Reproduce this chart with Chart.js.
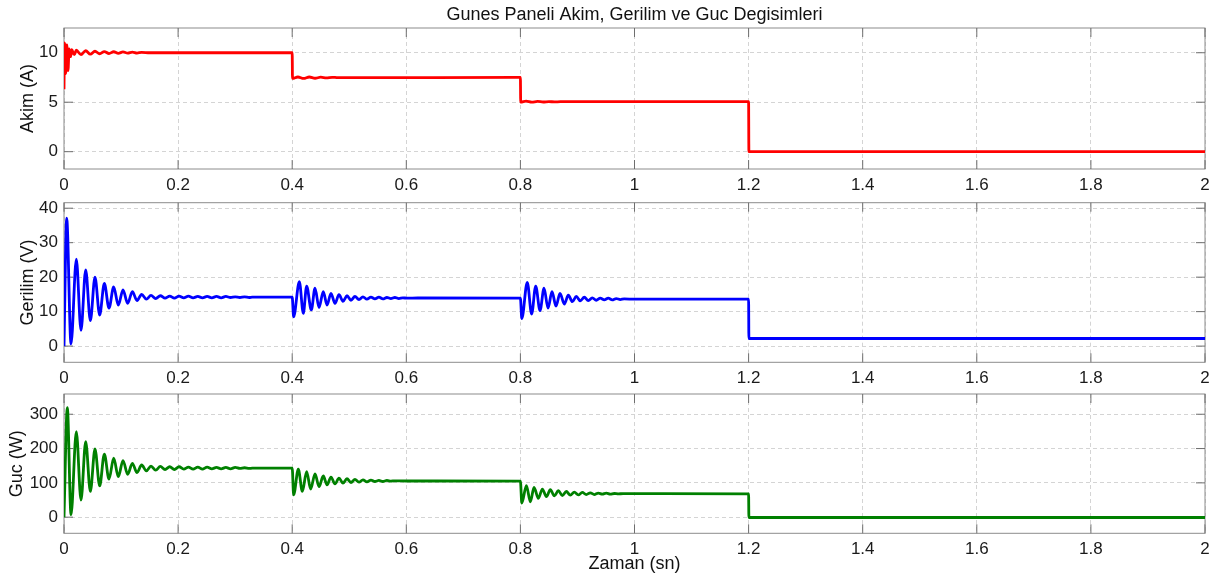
<!DOCTYPE html>
<html>
<head>
<meta charset="utf-8">
<script src="https://cdn.jsdelivr.net/npm/chart.js@4.4.1/dist/chart.umd.min.js"></script>
<style>
  html, body { margin: 0; padding: 0; background: #fff; }
  .panel { position: absolute; left: 0; }
  canvas { display: block; }
</style>
</head>
<body>
<div class="panel" style="top:0px"><canvas id="akimChart" width="1219" height="200"></canvas></div>
<div class="panel" style="top:180px"><canvas id="gerilimChart" width="1219" height="210"></canvas></div>
<div class="panel" style="top:370px"><canvas id="gucChart" width="1219" height="210"></canvas></div>
<script>
// time axis (s)
const xTicks = [0, 0.2, 0.4, 0.6, 0.8, 1, 1.2, 1.4, 1.6, 1.8, 2];
const xTickLabels = ["0", "0.2", "0.4", "0.6", "0.8", "1", "1.2", "1.4", "1.6", "1.8", "2"];

// Akim (A)
const akimTicks = [0, 5, 10];
const akimT = [0, 0.001, 0.003, 0.005, 0.007, 0.009, 0.0115, 0.0135, 0.018, 0.0216, 0.0298, 0.038, 0.0462,
  0.0543, 0.0625, 0.0707, 0.0789, 0.0871, 0.0952, 0.1034, 0.1116, 0.1198, 0.128, 0.1361, 0.15, 0.4,
  0.4005, 0.41, 0.42, 0.43, 0.44, 0.45, 0.46, 0.47, 0.48, 0.8,
  0.8005, 0.81, 0.82, 0.83, 0.84, 0.85, 0.86, 0.87, 1.2, 1.2005, 2];
const akimA = [6.3, 11.0, 7.9, 10.8, 8.2, 10.4, 9.6, 10.3, 9.8, 10.25, 9.8, 10.2, 9.85,
  10.15, 9.9, 10.12, 9.92, 10.1, 9.94, 10.08, 9.96, 10.06, 9.97, 10.04, 10.0, 10.0,
  7.4, 7.55, 7.4, 7.55, 7.42, 7.53, 7.45, 7.52, 7.48, 7.5,
  5.0, 5.1, 5.0, 5.08, 5.02, 5.06, 5.03, 5.05, 5.05, 0, 0];

// Gerilim (V)
const gerilimTicks = [0, 10, 20, 30, 40];
const gerilimT = [0, 0.0047, 0.0123, 0.0216, 0.0298, 0.038, 0.0462, 0.0543, 0.0625, 0.0707, 0.0789,
  0.0871, 0.0952, 0.1034, 0.1116, 0.1198, 0.128, 0.1361, 0.1443, 0.1525, 0.1607, 0.1689, 0.1771,
  0.1853, 0.1935, 0.2017, 0.2099, 0.2181, 0.2263, 0.2345, 0.2427, 0.2509, 0.2591, 0.2673, 0.2755,
  0.2837, 0.2919, 0.3001, 0.3083, 0.3165, 0.3247, 0.33, 0.4,
  0.4025, 0.4125, 0.4195, 0.4253, 0.4335, 0.44, 0.447, 0.4545, 0.461, 0.468, 0.475, 0.482, 0.489,
  0.496, 0.503, 0.51, 0.517, 0.524, 0.531, 0.538, 0.545, 0.552, 0.559, 0.566, 0.573, 0.58, 0.587,
  0.594, 0.601, 0.62, 0.8,
  0.8025, 0.812, 0.8197, 0.8268, 0.8344, 0.8414, 0.8484, 0.8554, 0.8624, 0.8694, 0.877, 0.884, 0.891,
  0.898, 0.905, 0.912, 0.919, 0.926, 0.933, 0.94, 0.947, 0.954, 0.961, 0.968, 0.975, 0.982, 1.0,
  1.2, 1.2005, 2];
const gerilimV = [0, 37.1, 0.6, 25.2, 4.6, 22.1, 7.4, 20.0, 9.0, 18.2, 11.0,
  17.2, 11.9, 16.3, 12.4, 15.8, 13.2, 15.0, 13.6, 14.7, 13.8, 14.6, 13.9,
  14.5, 13.9, 14.5, 14.0, 14.5, 14.0, 14.4, 14.0, 14.4, 14.0, 14.4, 14.0,
  14.4, 14.1, 14.3, 14.1, 14.3, 14.1, 14.2, 14.2,
  8.5, 18.7, 9.5, 17.4, 10.5, 16.8, 11.2, 15.8, 11.9, 15.3, 12.4, 14.9, 13.0,
  14.6, 13.3, 14.4, 13.5, 14.3, 13.6, 14.2, 13.7, 14.2, 13.7, 14.1, 13.8, 14.1, 13.8,
  14.0, 13.9, 13.95, 13.9,
  8.0, 18.5, 9.3, 17.4, 10.3, 16.8, 11.0, 15.8, 11.6, 15.3, 12.2, 14.8, 12.9,
  14.4, 13.1, 14.2, 13.2, 14.0, 13.3, 13.9, 13.4, 13.9, 13.4, 13.8, 13.5, 13.7, 13.6,
  13.6, 2.2, 2.2];

// Guc (W)
const gucTicks = [0, 100, 200, 300];
const gucT = [0, 0.0058, 0.0123, 0.0216, 0.0298, 0.038, 0.0462, 0.0543, 0.0625, 0.0707, 0.0789,
  0.0871, 0.0952, 0.1034, 0.1116, 0.1198, 0.128, 0.1361, 0.1443, 0.1525, 0.1607, 0.1689, 0.1771,
  0.1853, 0.1935, 0.2017, 0.2099, 0.2181, 0.2263, 0.2345, 0.2427, 0.2509, 0.2591, 0.2673, 0.2755,
  0.2837, 0.2919, 0.3001, 0.3083, 0.3165, 0.3247, 0.33, 0.4,
  0.4025, 0.4107, 0.4178, 0.4253, 0.4323, 0.44, 0.447, 0.4545, 0.461, 0.468, 0.475, 0.482, 0.489,
  0.496, 0.503, 0.51, 0.517, 0.524, 0.531, 0.538, 0.545, 0.552, 0.559, 0.566, 0.573, 0.58, 0.6, 0.8,
  0.8025, 0.8105, 0.8175, 0.8239, 0.8315, 0.8385, 0.8455, 0.8525, 0.8595, 0.8665, 0.8735, 0.8805,
  0.8875, 0.8945, 0.9015, 0.9085, 0.9155, 0.9225, 0.9295, 0.9365, 0.9435, 0.9505, 0.9575, 0.9645,
  0.9715, 0.98, 1.2, 1.2005, 2];
const gucP = [0, 319, 7, 249, 50, 220, 75, 199, 91, 184, 111,
  172, 118, 165, 125, 157, 130, 152, 135, 149, 137, 148, 139,
  147, 139, 147, 140, 146, 140, 146, 140, 146, 141, 145, 141,
  145, 141, 145, 142, 144, 142, 143, 143,
  65, 140, 75, 133, 82, 126, 89, 120, 94, 117, 97, 114, 99,
  112, 101, 110, 102, 109, 103, 108, 104, 107, 104, 107, 105, 106, 105.5, 105,
  41, 92, 45, 87, 55, 82, 60, 80, 62, 77, 63, 75,
  64, 73, 65, 72, 66, 71, 66, 70, 67, 70, 67, 69,
  68, 68.5, 68, -1, -1];

const FONT = '"Liberation Sans", Arial, Helvetica, sans-serif';

// box around the plot area with inward tick marks
const framePlugin = {
  id: "frame",
  beforeDatasetsDraw(chart) {
    const { ctx, chartArea: a, scales } = chart;
    ctx.save();
    ctx.strokeStyle = "#8c8c8c";
    ctx.lineWidth = 1;
    ctx.strokeRect(a.left, a.top, a.width, a.height);
    ctx.strokeStyle = "#6e6e6e";
    ctx.beginPath();
    scales.x.ticks.forEach(t => {
      const px = scales.x.getPixelForValue(t.value);
      ctx.moveTo(px, a.top); ctx.lineTo(px, a.top + 9);
      ctx.moveTo(px, a.bottom); ctx.lineTo(px, a.bottom - 9);
    });
    scales.y.ticks.forEach(t => {
      const py = scales.y.getPixelForValue(t.value);
      ctx.moveTo(a.left, py); ctx.lineTo(a.left + 9, py);
      ctx.moveTo(a.right, py); ctx.lineTo(a.right - 9, py);
    });
    ctx.stroke();
    ctx.restore();
  }
};

function makeChart(id, cfg) {
  const ctx = document.getElementById(id).getContext("2d");
  return new Chart(ctx, {
    type: "line",
    data: {
      datasets: [{
        data: cfg.t.map((t, i) => ({ x: t, y: cfg.v[i] })),
        borderColor: cfg.color,
        borderWidth: 2.8,
        pointRadius: 0,
        fill: false,
        cubicInterpolationMode: "monotone"
      }]
    },
    options: {
      responsive: false,
      animation: false,
      events: [],
      layout: { padding: cfg.padding },
      plugins: {
        legend: { display: false },
        tooltip: { enabled: false },
        title: cfg.title ? {
          display: true,
          text: cfg.title,
          fullSize: false,
          color: "#111",
          font: { size: 18, weight: "normal", family: FONT },
          padding: { top: 4, bottom: 2.4 }
        } : { display: false }
      },
      scales: {
        x: {
          type: "linear",
          min: 0,
          max: 2,
          afterBuildTicks: s => { s.ticks = xTicks.map(v => ({ value: v })); },
          afterFit: s => { s.height = cfg.xHeight; },
          grid: { color: "#d4d4d4", drawTicks: false },
          border: { display: false, dash: [4, 3] },
          ticks: {
            padding: 6, color: "#1a1a1a", autoSkip: false, maxRotation: 0,
            font: { size: 17, family: FONT },
            callback: (v, i) => xTickLabels[i]
          },
          title: cfg.xTitle ? {
            display: true, text: cfg.xTitle, color: "#111",
            font: { size: 18, family: FONT },
            padding: { top: 0, bottom: 5 }
          } : { display: false }
        },
        y: {
          type: "linear",
          min: cfg.yMin,
          max: cfg.yMax,
          afterBuildTicks: s => { s.ticks = cfg.yTicks.map(v => ({ value: v })); },
          afterFit: s => { s.width = 64; },
          grid: { color: "#d4d4d4", drawTicks: false },
          border: { display: false, dash: [4, 3] },
          ticks: {
            padding: 6, color: "#1a1a1a",
            font: { size: 17, family: FONT },
            callback: v => String(v)
          },
          title: {
            display: true, text: cfg.yTitle, color: "#111",
            font: { size: 18, family: FONT },
            padding: { top: cfg.yTitlePad, bottom: 0 }
          }
        }
      }
    },
    plugins: [framePlugin]
  });
}

makeChart("akimChart", {
  t: akimT, v: akimA, color: "#ff0000",
  yMin: -1.75, yMax: 12.5, yTicks: akimTicks, yTitle: "Akim (A)", yTitlePad: 17,
  title: "Gunes Paneli Akim, Gerilim ve Guc Degisimleri",
  padding: { top: 0, left: 0, right: 14, bottom: 6 }, xHeight: 25
});

makeChart("gerilimChart", {
  t: gerilimT, v: gerilimV, color: "#0000ff",
  yMin: -4.7, yMax: 41.6, yTicks: gerilimTicks, yTitle: "Gerilim (V)", yTitlePad: 17,
  padding: { top: 22.7, left: 0, right: 14, bottom: 2.7 }, xHeight: 25
});

makeChart("gucChart", {
  t: gucT, v: gucP, color: "#008000",
  yMin: -47, yMax: 359, yTicks: gucTicks, yTitle: "Guc (W)", yTitlePad: 6.7,
  xTitle: "Zaman (sn)",
  padding: { top: 24, left: 0, right: 14, bottom: 0 }, xHeight: 46.7
});
</script>
</body>
</html>
